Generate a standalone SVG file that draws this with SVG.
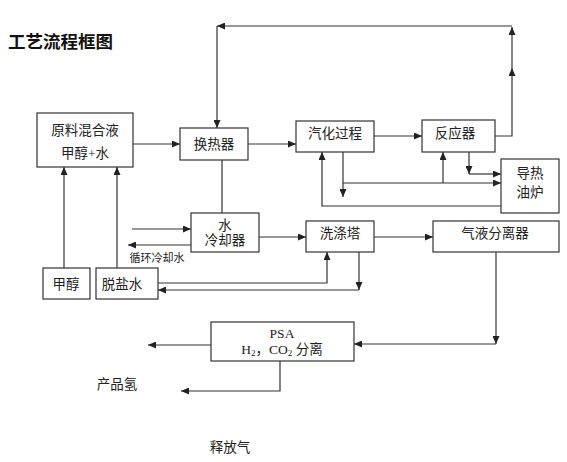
<svg xmlns="http://www.w3.org/2000/svg" width="567" height="462" viewBox="0 0 567 462">
<style>
.box{fill:#fff;stroke:#333;stroke-width:1.2}
.ln{fill:none;stroke:#333;stroke-width:1.2}
.t{font-family:"Liberation Serif","Noto Sans CJK SC",serif;font-size:13.5px;fill:#222;text-anchor:middle}
.s{font-size:11px}
.title{font-family:"Noto Sans CJK SC",sans-serif;font-size:17.5px;font-weight:bold;fill:#111}
</style>
<defs>
<marker id="a" markerUnits="userSpaceOnUse" markerWidth="8" markerHeight="7" refX="8" refY="3.5" orient="auto">
<path d="M0,0 L8,3.5 L0,7 z" fill="#222"/>
</marker>
</defs>
<rect width="567" height="462" fill="#fff"/>
<text class="title" x="8" y="48">工艺流程框图</text>

<g id="connectors">
<path class="ln" d="M133,144 H180" marker-end="url(#a)"/>
<path class="ln" d="M248,144 H296" marker-end="url(#a)"/>
<path class="ln" d="M374,136 H422" marker-end="url(#a)"/>
<path class="ln" d="M495,136 H512 V68" marker-end="url(#a)"/>
<path class="ln" d="M512,68 V27" marker-end="url(#a)"/>
<path class="ln" d="M512,26 H217" marker-end="url(#a)"/>
<path class="ln" d="M217,26 V128" marker-end="url(#a)"/>
<path class="ln" d="M469,152 V174" marker-end="url(#a)"/>
<path class="ln" d="M469,174 H501" marker-end="url(#a)"/>
<path class="ln" d="M343,152 V197" marker-end="url(#a)"/>
<path class="ln" d="M343,183 H501" marker-end="url(#a)"/>
<path class="ln" d="M443,183 V152" marker-end="url(#a)"/>
<path class="ln" d="M501,206 H322 V152" marker-end="url(#a)"/>
<path class="ln" d="M222,160 V213"/>
<path class="ln" d="M132,229 H191" marker-end="url(#a)"/>
<path class="ln" d="M191,245 H128" marker-end="url(#a)"/>
<path class="ln" d="M259,237 H306" marker-end="url(#a)"/>
<path class="ln" d="M374,237 H433" marker-end="url(#a)"/>
<path class="ln" d="M64,268 V167" marker-end="url(#a)"/>
<path class="ln" d="M117,268 V167" marker-end="url(#a)"/>
<path class="ln" d="M158,283 H327 V252" marker-end="url(#a)"/>
<path class="ln" d="M359,252 V290" marker-end="url(#a)"/>
<path class="ln" d="M359,290 H158" marker-end="url(#a)"/>
<path class="ln" d="M496,252 V344" marker-end="url(#a)"/>
<path class="ln" d="M496,344 H354" marker-end="url(#a)"/>
<path class="ln" d="M211,345 H148" marker-end="url(#a)"/>
<path class="ln" d="M280,361 V391 H181" marker-end="url(#a)"/>
</g>

<g id="raw"><rect class="box" x="37" y="113" width="96" height="54"/>
<text class="t" x="85" y="135">原料混合液</text><text class="t" x="85" y="158">甲醇+水</text></g>
<g id="hx"><rect class="box" x="180" y="128" width="68" height="32"/>
<text class="t" x="214" y="149">换热器</text></g>
<g id="vap"><rect class="box" x="296" y="121" width="78" height="31"/>
<text class="t" x="335" y="138">汽化过程</text></g>
<g id="reactor"><rect class="box" x="422" y="120" width="73" height="32"/>
<text class="t" x="455" y="138">反应器</text></g>
<g id="furnace"><rect class="box" x="501" y="159" width="58" height="54"/>
<text class="t" x="530" y="178">导热</text><text class="t" x="530" y="197">油炉</text></g>
<g id="cooler"><rect class="box" x="191" y="213" width="68" height="39"/>
<text class="t" x="225" y="230">水</text><text class="t" x="225" y="245">冷却器</text></g>
<text class="t s" x="157" y="262">循环冷却水</text>
<g id="washer"><rect class="box" x="306" y="221" width="68" height="31"/>
<text class="t" x="340" y="238">洗涤塔</text></g>
<g id="sep"><rect class="box" x="433" y="221" width="126" height="31"/>
<text class="t" x="495" y="238">气液分离器</text></g>
<g id="methanol"><rect class="box" x="43" y="268" width="47" height="31"/>
<text class="t" x="66" y="289">甲醇</text></g>
<g id="water"><rect class="box" x="96" y="268" width="62" height="31"/>
<text class="t" x="122" y="289">脱盐水</text></g>
<g id="psa"><rect class="box" x="211" y="322" width="143" height="39"/>
<text class="t" x="282" y="338">PSA</text>
<text class="t" x="282" y="354">H<tspan font-size="9" dy="2">2</tspan><tspan dy="-2">，CO</tspan><tspan font-size="9" dy="2">2</tspan><tspan dy="-2"> 分离</tspan></text></g>
<text class="t" x="117" y="389">产品氢</text>
<text class="t" x="230" y="452">释放气</text>
</svg>
